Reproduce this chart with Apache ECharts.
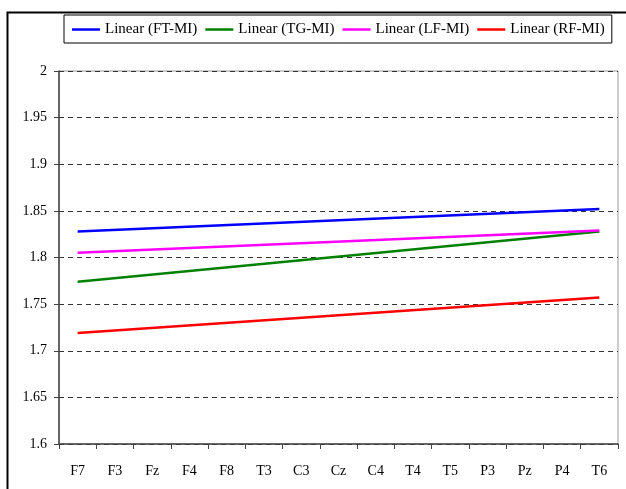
<!DOCTYPE html>
<html>
<head>
<meta charset="utf-8">
<script src="https://cdn.jsdelivr.net/npm/echarts@6/dist/echarts.min.js"></script>
<style>html,body{margin:0;padding:0;background:#fff}#c{width:626px;height:489px}</style>
</head>
<body>
<div id="c"></div>
<script>
// Categories (electrode sites)
var categories = ['F7','F3','Fz','F4','F8','T3','C3','Cz','C4','T4','T5','P3','Pz','P4','T6'];
// Linear trend lines: values read at first (F7) and last (T6) category; straight line between
var ftMI = [1.828, null, null, null, null, null, null, null, null, null, null, null, null, null, 1.852];
var tgMI = [1.774, null, null, null, null, null, null, null, null, null, null, null, null, null, 1.828];
var lfMI = [1.805, null, null, null, null, null, null, null, null, null, null, null, null, null, 1.829];
var rfMI = [1.719, null, null, null, null, null, null, null, null, null, null, null, null, null, 1.757];
var seriesNames = ['Linear (FT-MI)', 'Linear (TG-MI)', 'Linear (LF-MI)', 'Linear (RF-MI)'];
var yTicks = [1.6, 1.65, 1.7, 1.75, 1.8, 1.85, 1.9, 1.95, 2];

var font = 'Liberation Serif';
var colors = ['#0000ff', '#008000', '#ff00ff', '#ff0000'];
var datasets = [ftMI, tgMI, lfMI, rfMI];

var chart = echarts.init(document.getElementById('c'), null, {renderer: 'canvas'});
chart.setOption({
  animation: false,
  backgroundColor: '#fff',
  textStyle: {fontFamily: font, color: '#000'},
  graphic: [{
    type: 'rect', silent: true, z: 100,
    shape: {x: 7.5, y: 12.5, width: 700, height: 600},
    style: {fill: 'none', stroke: '#000', lineWidth: 2}
  }],
  legend: {
    left: 64, top: 15,
    padding: [7, 7, 6, 8],
    borderColor: '#000', borderWidth: 1,
    itemWidth: 28, itemHeight: 2.5, itemGap: 8,
    icon: 'rect',
    textStyle: {fontFamily: font, fontSize: 15, color: '#000'},
    data: seriesNames
  },
  grid: {
    left: 59, right: 8, top: 71, bottom: 45,
    show: true, borderColor: '#999', borderWidth: 1, backgroundColor: 'transparent'
  },
  xAxis: {
    type: 'category',
    data: categories,
    boundaryGap: true,
    axisLine: {lineStyle: {color: '#444', width: 1.5}},
    axisTick: {show: true, length: 5, inside: false, lineStyle: {color: '#444', width: 1}},
    axisLabel: {fontFamily: font, fontSize: 14, color: '#000', margin: 20, interval: 0},
    splitLine: {show: false}
  },
  yAxis: {
    type: 'value',
    min: yTicks[0], max: yTicks[yTicks.length - 1], interval: 0.05,
    axisLine: {show: true, lineStyle: {color: '#444', width: 1.5}},
    axisTick: {show: true, length: 5, lineStyle: {color: '#444', width: 1}},
    axisLabel: {fontFamily: font, fontSize: 14, color: '#000', margin: 12,
      formatter: function (v) { return String(+v.toFixed(2)); }},
    splitLine: {show: true, lineStyle: {color: '#333', width: 1, type: [5, 4]}}
  },
  series: datasets.map(function (d, i) {
    return {
      name: seriesNames[i],
      type: 'line',
      data: d,
      connectNulls: true,
      symbol: 'none',
      color: colors[i],
      lineStyle: {color: colors[i], width: 2.5},
      itemStyle: {color: colors[i]}
    };
  })
});
</script>
</body>
</html>
